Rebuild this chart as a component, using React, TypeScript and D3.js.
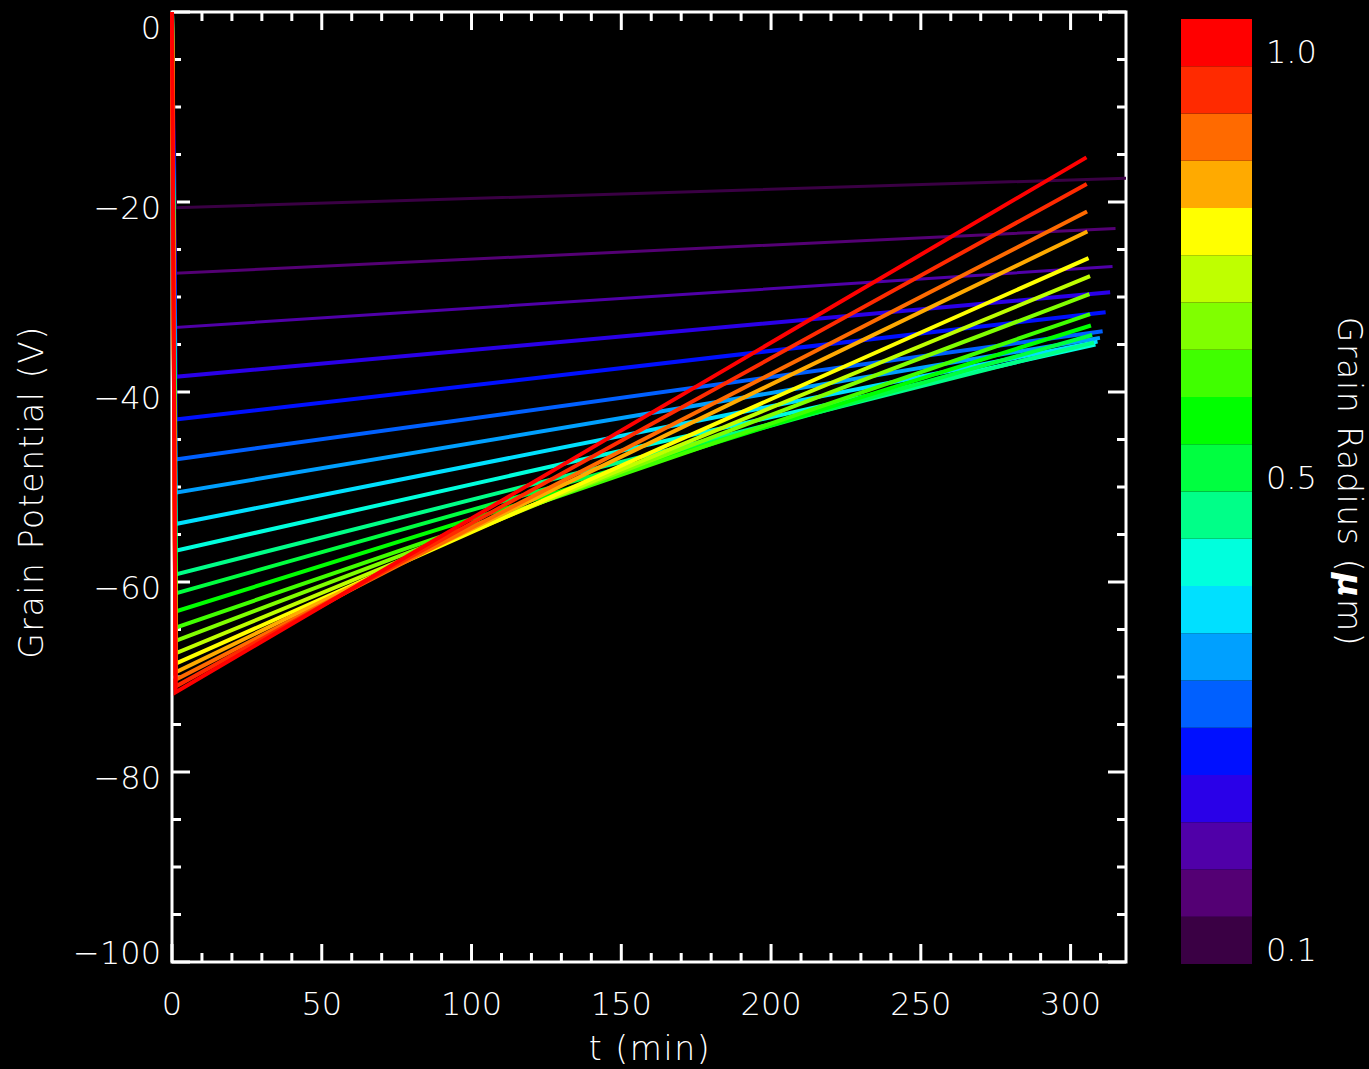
import React from 'react';
import * as d3 from 'd3';

// Colour bins of the radius bar, smallest grain first (bottom of the bar).
const binColors = [
  '#3a0044', '#540074', '#5000a8', '#2a00e8', '#0010ff',
  '#0060ff', '#00a0ff', '#00e0ff', '#00ffdd', '#00ff88',
  '#00ff40', '#00ff00', '#40ff00', '#80ff00', '#bfff00',
  '#ffff00', '#ffaa00', '#ff6a00', '#ff2a00', '#ff0000',
];

// Potential reached right after the initial charging drop (V), per grain bin.
const initialPotential = [
  -20.6, -27.5, -33.2, -38.4, -42.9, -47.1, -50.6, -53.9, -56.7, -59.2,
  -61.2, -63.1, -64.8, -66.2, -67.5, -68.6, -69.5, -70.3, -71.0, -71.6,
];
// Time of that drop (min).
const dropTime = [
  1.2, 1.2, 1.2, 1.2, 1.2, 1.2, 1.2, 1.2, 1.2, 1.2,
  1.2, 1.2, 1.2, 1.2, 1.2, 1.2, 1.2, 1.2, 1.2, 1.2,
];
// Potential at the end of the run (V).
const finalPotential = [
  -17.5, -22.8, -26.8, -29.5, -31.6, -33.6, -34.3, -34.7, -35.0, -34.8,
  -34.0, -33.0, -31.8, -29.7, -27.8, -25.9, -23.1, -21.0, -18.1, -15.3,
];
// End time of each run (min).
const finalTime = [
  318.5, 315.0, 314.0, 313.2, 311.7, 310.7, 309.8, 309.0, 308.3, 307.8,
  307.2, 306.8, 306.5, 306.3, 306.5, 306.0, 305.6, 305.5, 305.4, 305.3,
];

const xMajorTicks = [0, 50, 100, 150, 200, 250, 300];
const yMajorTicks = [0, -20, -40, -60, -80, -100];
const colorbarLabels = [
  { text: '1.0', bin: 19 },
  { text: '0.5', bin: 10 },
  { text: '0.1', bin: 0 },
];

const W = 1369;
const H = 1069;
const frame = { left: 172, right: 1126, top: 12, bottom: 962 };
const bar = { left: 1181, right: 1252, top: 19, bottom: 964 };
const FONT = '"DejaVu Sans", sans-serif';
const MAJOR = 18;
const MINOR = 9;

export default function App() {
  const x = d3.scaleLinear().domain([0, 318.5]).range([frame.left, frame.right]);
  const y = d3.scaleLinear().domain([-100, 0]).range([frame.bottom, frame.top]);
  const binY = d3.scaleLinear().domain([0, binColors.length]).range([bar.bottom, bar.top]);

  const xMinor = d3.range(0, 318, 10).filter((t) => t % 50 !== 0);
  const yMinor = d3.range(-100, 0.1, 5).filter((v) => v % 20 !== 0);

  const line = d3
    .line<[number, number]>()
    .x((d) => x(d[0]))
    .y((d) => y(d[1]));

  const curves = binColors.map((c, i) => ({
    color: c,
    pts: [
      [0, 0],
      [dropTime[i], initialPotential[i]],
      [finalTime[i], finalPotential[i]],
    ] as [number, number][],
  }));

  const tickText = {
    fill: '#ffffff',
    fontFamily: FONT,
    fontWeight: 200,
    fontSize: 32,
  };
  const titleText = {
    ...tickText,
    fontSize: 33,
    letterSpacing: 1.6,
  };

  return (
    <svg
      width={W}
      height={H}
      style={{ position: 'absolute', left: 0, top: 0, background: '#000' }}
    >
      <rect x={0} y={0} width={W} height={H} fill="#000" />

      <defs>
        <clipPath id="plot-clip">
          <rect
            x={frame.left - 2}
            y={frame.top - 2}
            width={frame.right - frame.left + 2}
            height={frame.bottom - frame.top + 4}
          />
        </clipPath>
      </defs>

      {/* frame */}
      <rect
        x={frame.left}
        y={frame.top}
        width={frame.right - frame.left}
        height={frame.bottom - frame.top}
        fill="none"
        stroke="#fff"
        strokeWidth={3}
      />

      {/* x ticks, bottom and top, pointing inward */}
      <g stroke="#fff" strokeWidth={3}>
        {xMajorTicks.map((t) => (
          <g key={'xm' + t}>
            <line x1={x(t)} x2={x(t)} y1={frame.bottom} y2={frame.bottom - MAJOR} />
            <line x1={x(t)} x2={x(t)} y1={frame.top} y2={frame.top + MAJOR} />
          </g>
        ))}
        {xMinor.map((t) => (
          <g key={'xn' + t}>
            <line x1={x(t)} x2={x(t)} y1={frame.bottom} y2={frame.bottom - MINOR} />
            <line x1={x(t)} x2={x(t)} y1={frame.top} y2={frame.top + MINOR} />
          </g>
        ))}
        {yMajorTicks.map((v) => (
          <g key={'ym' + v}>
            <line x1={frame.left} x2={frame.left + MAJOR} y1={y(v)} y2={y(v)} />
            <line x1={frame.right} x2={frame.right - MAJOR} y1={y(v)} y2={y(v)} />
          </g>
        ))}
        {yMinor.map((v) => (
          <g key={'yn' + v}>
            <line x1={frame.left} x2={frame.left + MINOR} y1={y(v)} y2={y(v)} />
            <line x1={frame.right} x2={frame.right - MINOR} y1={y(v)} y2={y(v)} />
          </g>
        ))}
      </g>

      {/* potential curves, small grains first so large grains sit on top */}
      <g clipPath="url(#plot-clip)">
        {curves.map((c, i) => (
          <path
            key={i}
            d={line(c.pts) || ''}
            fill="none"
            stroke={c.color}
            strokeWidth={i < 3 ? 3 : 4}
            strokeLinejoin="miter"
          />
        ))}
      </g>

      {/* tick labels */}
      {xMajorTicks.map((t) => (
        <text key={'xl' + t} x={x(t)} y={1015} textAnchor="middle" {...tickText}>
          {t}
        </text>
      ))}
      {yMajorTicks.map((v) => {
        const cy = Math.min(Math.max(y(v) + 5, frame.top + 15), frame.bottom - 10);
        return (
          <text
            key={'yl' + v}
            x={161}
            y={cy}
            dy="0.36em"
            textAnchor="end"
            {...tickText}
          >
            {v < 0 ? '\u2212' + Math.abs(v) : v}
          </text>
        );
      })}

      {/* axis titles */}
      <text x={650} y={1060} textAnchor="middle" {...titleText}>
        t (min)
      </text>
      <text
        transform="translate(43,492) rotate(-90)"
        textAnchor="middle"
        {...titleText}
      >
        Grain Potential (V)
      </text>

      {/* colour bar */}
      {binColors.map((c, i) => (
        <rect
          key={'bin' + i}
          x={bar.left}
          y={binY(i + 1)}
          width={bar.right - bar.left}
          height={binY(i) - binY(i + 1)}
          fill={c}
        />
      ))}
      {colorbarLabels.map((l) => (
        <text key={l.text} x={1266} y={binY(l.bin) - 3} {...tickText}>
          {l.text}
        </text>
      ))}
      <text
        transform="translate(1338,482) rotate(90)"
        textAnchor="middle"
        {...titleText}
      >
        Grain Radius (
        <tspan fontStyle="italic" fontWeight={700}>
          {'\u03bc'}
        </tspan>
        m)
      </text>
    </svg>
  );
}
